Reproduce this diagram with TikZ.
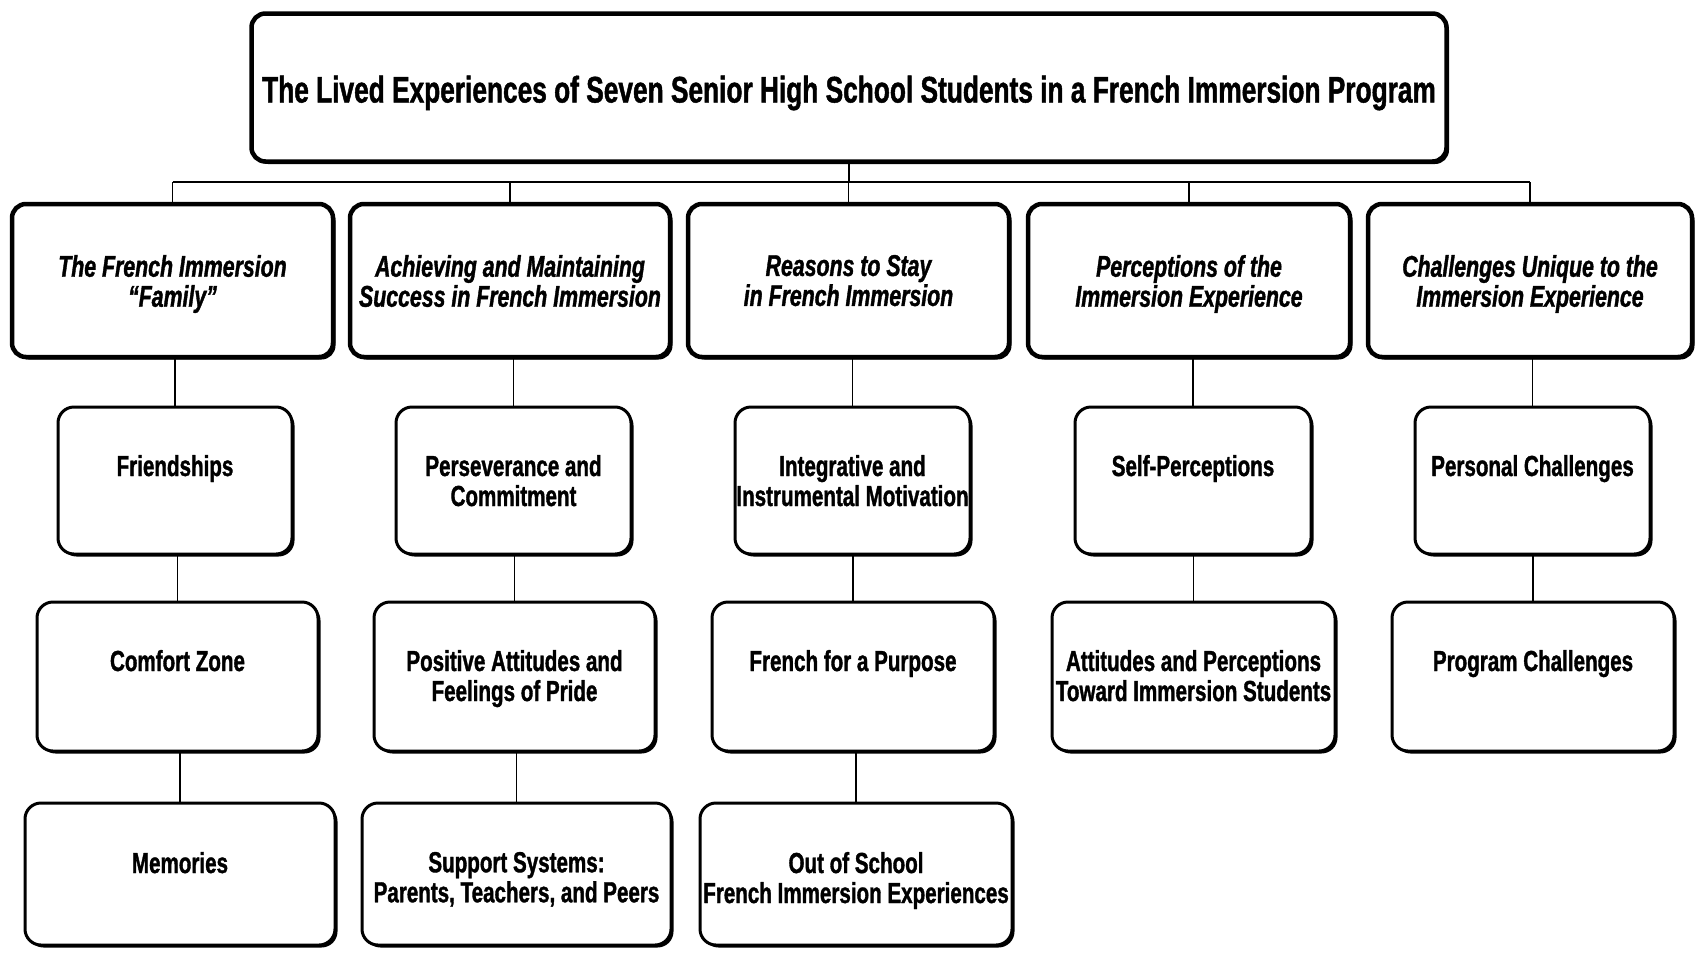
\documentclass[tikz,border=0pt]{standalone}
\usepackage{fontspec}
\setmainfont{Liberation Sans}[FakeStretch=0.71,
  BoldFeatures={FakeBold=1.2}, BoldItalicFeatures={FakeBold=1.2}]
\usetikzlibrary{shadows}
\newcommand\btxt[4][51pt]{\parbox[c][#3][t]{#2}{\centering\vspace*{#1}#4\par}}
\tikzset{
  conn/.style={line width=1.5pt, draw=black},
  basebox/.style={draw=black, fill=white, inner sep=0pt, outer sep=0pt,
    drop shadow={shadow xshift=2.5pt, shadow yshift=-2.5pt, fill=black, opacity=1}},
  titlebox/.style={basebox, line width=4.5pt, rounded corners=14pt,
    font=\fontsize{37}{37}\selectfont\bfseries},
  mainbox/.style={basebox, line width=4.5pt, rounded corners=14pt,
    font=\fontsize{30}{30}\selectfont\bfseries\itshape},
  subbox/.style={basebox, line width=3pt, rounded corners=16pt,
    font=\fontsize{29}{30}\selectfont\bfseries},
}
\begin{document}
\begin{tikzpicture}[x=1pt, y=-1pt]
\useasboundingbox (0,0) rectangle (1699,953);
\fill[white] (0,0) rectangle (1699,953);

% title
\node[titlebox, minimum width=1195pt, minimum height=148pt] (T) at (849,87.5)
  {\raisebox{-15pt}[0pt][0pt]{The Lived Experiences of Seven Senior High School Students in a French Immersion Program}};

% row 1
\node[mainbox] (B1) at (172.5,280.5) {\btxt{321pt}{153pt}{The French Immersion\\\textquotedblleft Family\textquotedblright}};
\node[mainbox] (B2) at (510,280.5) {\btxt{320pt}{153pt}{Achieving and Maintaining\\Success in French Immersion}};
\node[mainbox] (B3) at (848.5,280.5) {\btxt{321pt}{153pt}{Reasons to Stay\\in French Immersion}};
\node[mainbox] (B4) at (1189,280.5) {\btxt{322pt}{153pt}{Perceptions of the\\Immersion Experience}};
\node[mainbox] (B5) at (1530,280.5) {\btxt{324pt}{153pt}{Challenges Unique to the\\Immersion Experience}};

% row 2
\node[subbox] (C1) at (175,480.5) {\btxt[48pt]{234pt}{147pt}{Friendships}};
\node[subbox] (C2) at (513.5,480.5) {\btxt[48pt]{235pt}{147pt}{Perseverance and\\Commitment}};
\node[subbox] (C3) at (852.5,480.5) {\btxt[48pt]{235pt}{147pt}{Integrative and\\Instrumental Motivation}};
\node[subbox] (C4) at (1193,480.5) {\btxt[48pt]{236pt}{147pt}{Self-Perceptions}};
\node[subbox] (C5) at (1532.5,480.5) {\btxt[48pt]{235pt}{147pt}{Personal Challenges}};

% row 3
\node[subbox] (D1) at (177.5,676.5) {\btxt[48pt]{281pt}{149pt}{Comfort Zone}};
\node[subbox] (D2) at (514.5,676.5) {\btxt[48pt]{281pt}{149pt}{Positive Attitudes and\\Feelings of Pride}};
\node[subbox] (D3) at (853,676.5) {\btxt[48pt]{282pt}{149pt}{French for a Purpose}};
\node[subbox] (D4) at (1193.5,676.5) {\btxt[48pt]{283pt}{149pt}{Attitudes and Perceptions\\Toward Immersion Students}};
\node[subbox] (D5) at (1533,676.5) {\btxt[48pt]{282pt}{149pt}{Program Challenges}};

% row 4
\node[subbox] (E1) at (180,874) {\btxt[49pt]{310pt}{142pt}{Memories}};
\node[subbox] (E2) at (516.5,874) {\btxt[49pt]{309pt}{142pt}{Support Systems:\\Parents, Teachers, and Peers}};
\node[subbox] (E3) at (856,874) {\btxt[49pt]{312pt}{142pt}{Out of School\\French Immersion Experiences}};

% connectors
\coordinate (bus) at (0,182);
\draw[conn] (T.south) -- (T.south |- bus);
\draw[conn] (B1.north |- bus) -- (B5.north |- bus);
\foreach \n in {B1,B2,B3,B4,B5} \draw[conn] (\n.north) -- (\n.north |- bus);
\draw[conn] (C1.north) -- (C1.north |- B1.south);
\draw[conn] (C2.north) -- (C2.north |- B2.south);
\draw[conn] (C3.north) -- (C3.north |- B3.south);
\draw[conn] (C4.north) -- (C4.north |- B4.south);
\draw[conn] (C5.north) -- (C5.north |- B5.south);
\draw[conn] (D1.north) -- (D1.north |- C1.south);
\draw[conn] (D2.north) -- (D2.north |- C2.south);
\draw[conn] (D3.north) -- (D3.north |- C3.south);
\draw[conn] (D4.north) -- (D4.north |- C4.south);
\draw[conn] (D5.north) -- (D5.north |- C5.south);
\draw[conn] (E1.north) -- (E1.north |- D1.south);
\draw[conn] (E2.north) -- (E2.north |- D2.south);
\draw[conn] (E3.north) -- (E3.north |- D3.south);
\end{tikzpicture}
\end{document}
